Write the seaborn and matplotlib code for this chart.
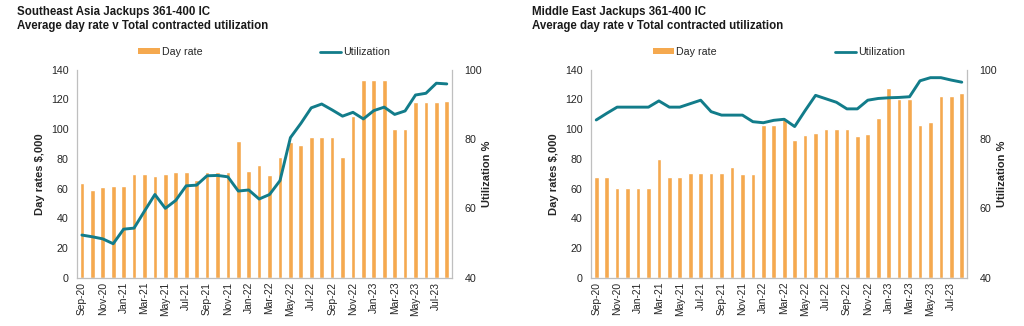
import numpy as np
import pandas as pd
import matplotlib
matplotlib.use("Agg")
import matplotlib.pyplot as plt
from matplotlib.patches import Patch
from matplotlib.lines import Line2D
import seaborn as sns

sns.set_theme(style="white")
plt.rcParams["font.family"] = ["Liberation Sans", "DejaVu Sans"]

months = pd.date_range("2020-09-01", "2023-08-01", freq="MS").strftime("%b-%y").tolist()

sea_day_rate = [64, 59, 61, 62, 62, 69.5, 70, 68.5, 70, 71, 71, 65.5,
                71, 71, 71, 92, 72, 76, 69, 81.5, 91, 89, 94.5, 94.5,
                94.5, 81, 109, 133, 133, 133, 100, 100, 118, 118, 118, 119]
sea_util = [52.3, 51.8, 51.2, 49.8, 54.0, 54.3, 59.2, 64.0, 60.0, 62.3, 66.5, 66.7,
            69.4, 69.5, 69.1, 65.0, 65.3, 62.7, 64.0, 68.0, 80.4, 84.5, 89.0, 90.1,
            88.4, 86.6, 87.7, 85.8, 88.2, 89.2, 87.1, 88.1, 92.7, 93.2, 96.1, 95.9]

me_day_rate = [68, 68, 60.5, 60.5, 60.5, 60.5, 80, 67.5, 67.5, 70.5, 70.5, 70.5,
               70.5, 74.5, 70, 70, 102.5, 102.5, 107, 93, 96, 97.5, 100, 100,
               100, 95.5, 97, 107.5, 128, 120.5, 120.5, 102.5, 105, 122.5, 122.5, 124.5]
me_util = [85.5, 87.4, 89.2, 89.2, 89.2, 89.2, 91.0, 89.2, 89.2, 90.2, 91.2, 87.9,
           86.9, 86.9, 86.9, 85.0, 84.7, 85.4, 85.7, 83.6, 88.2, 92.6, 91.6, 90.6,
           88.7, 88.7, 91.2, 91.7, 91.9, 92.0, 92.2, 96.8, 97.7, 97.7, 97.0, 96.4]

titles = ["Southeast Asia Jackups 361-400 IC\nAverage day rate v Total contracted utilization",
          "Middle East Jackups 361-400 IC\nAverage day rate v Total contracted utilization"]

BAR_COLOR = "#F5A94F"
LINE_COLOR = "#127C8A"
SPINE_COLOR = "#BFBFBF"
TEXT_COLOR = "#262626"

W, H = 1024, 326
fig = plt.figure(figsize=(W / 100, H / 100), dpi=100)

panels = [
    (sea_day_rate, sea_util, titles[0], 76.7, 452.0, 17.0),
    (me_day_rate, me_util, titles[1], 591.0, 967.0, 531.5),
]

top_px, bottom_px = 69.7, 277.7
for rates, util, title, x0, x1, tx in panels:
    ax = fig.add_axes([x0 / W, 1 - bottom_px / H, (x1 - x0) / W, (bottom_px - top_px) / H])
    df = pd.DataFrame({"month": months, "rate": rates, "util": util, "pos": np.arange(len(months))})
    sns.barplot(data=df, x="month", y="rate", order=months, color=BAR_COLOR,
                saturation=1, width=0.45, ax=ax)
    ax.set_xlim(-0.5, len(months) - 0.5)
    ax.set_ylim(0, 140)
    ax.set_yticks(np.arange(0, 141, 20))
    ax.set_xticks(np.arange(0, len(months), 2))
    ax.set_xticklabels(months[::2], rotation=90, fontsize=7.4, color=TEXT_COLOR)
    ax.tick_params(axis="y", labelsize=7.7, labelcolor=TEXT_COLOR, length=0, pad=6)
    ax.tick_params(axis="x", length=0, pad=3)
    ax.set_xlabel("")
    ax.set_ylabel("Day rates $,000", fontsize=8, fontweight="bold", color=TEXT_COLOR, labelpad=4)

    ax2 = ax.twinx()
    sns.lineplot(data=df, x="pos", y="util", color=LINE_COLOR, linewidth=2.1, ax=ax2)
    ax2.set_ylim(40, 100)
    ax2.set_yticks([40, 60, 80, 100])
    ax2.tick_params(axis="y", labelsize=7.7, labelcolor=TEXT_COLOR, length=0, pad=9)
    ax2.set_xlim(-0.5, len(months) - 0.5)
    ax2.set_ylabel("Utilization %", fontsize=8, fontweight="bold", color=TEXT_COLOR, labelpad=0)
    ax2.set_xlabel("")

    for a in (ax, ax2):
        a.spines["top"].set_visible(False)
        for s in ("left", "right", "bottom"):
            a.spines[s].set_color(SPINE_COLOR)
            a.spines[s].set_linewidth(0.9)
    ax.spines["right"].set_visible(False)
    ax2.spines["left"].set_visible(False)
    ax2.spines["bottom"].set_visible(False)

    handles = [Patch(facecolor=BAR_COLOR, edgecolor="none", label="Day rate"),
               Line2D([0], [0], color=LINE_COLOR, lw=2.0, label="Utilization")]
    ax.legend(handles=handles, loc="center", bbox_to_anchor=(0.5, 1.085), ncol=2,
              frameon=False, fontsize=7.7, handlelength=2.0, handleheight=0.45,
              handletextpad=0.2, columnspacing=11.0, labelcolor=TEXT_COLOR)

    fig.text(tx / W, 1 - 6.5 / H, title, ha="left", va="top", fontsize=8.3,
             fontweight="bold", color="#1a1a1a", linespacing=1.15)

fig.savefig("out.png", dpi=100, facecolor="white")
